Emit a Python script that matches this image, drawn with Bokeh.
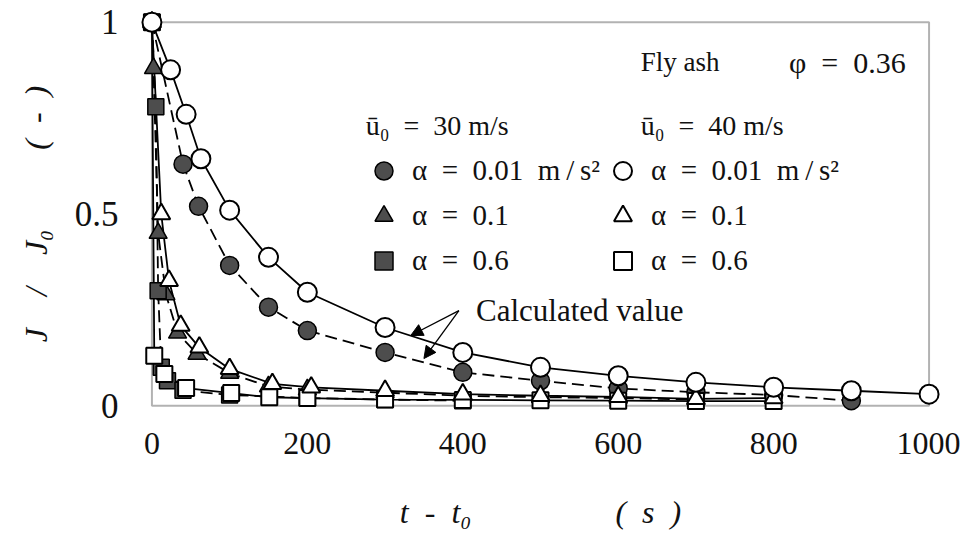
import math
from bokeh.plotting import figure
from bokeh.models import (Range1d, FixedTicker, Label, Legend, LegendItem, Arrow,
                          NormalHead, BoxAnnotation)
from bokeh.embed import file_html
from bokeh.resources import INLINE

# ---------------- data ----------------
# u0 = 40 m/s (open markers, solid calculated lines)
t_open_a001 = [0, 24, 44, 63, 100, 150, 200, 300, 400, 500, 600, 700, 800, 900, 1000]
j_open_a001 = [1.0, 0.876, 0.76, 0.644, 0.51, 0.387, 0.296, 0.204, 0.139, 0.10, 0.078, 0.061, 0.048, 0.039, 0.03]

t_open_a01 = [0, 12, 22, 37, 61, 100, 155, 205, 300, 400, 500, 600, 700, 800]
j_open_a01 = [1.0, 0.50, 0.326, 0.209, 0.152, 0.096, 0.057, 0.048, 0.039, 0.03, 0.026, 0.023, 0.018, 0.02]

t_open_a06 = [0, 3, 16, 44, 102, 151, 200, 300, 400, 500, 600, 700, 800]
j_open_a06 = [1.0, 0.13, 0.083, 0.046, 0.033, 0.022, 0.02, 0.016, 0.015, 0.014, 0.013, 0.012, 0.012]

# u0 = 30 m/s (filled markers, dashed calculated lines)
t_fill_a001 = [0, 40, 60, 100, 150, 200, 300, 400, 500, 600, 700, 800, 900]
j_fill_a001 = [1.0, 0.63, 0.52, 0.366, 0.257, 0.196, 0.139, 0.087, 0.065, 0.045, 0.035, 0.028, 0.013]

t_fill_a01 = [0, 2, 8, 18, 33, 58, 100, 150, 200, 300, 400, 500, 600, 700]
j_fill_a01 = [1.0, 0.88, 0.45, 0.29, 0.19, 0.135, 0.085, 0.05, 0.042, 0.034, 0.026, 0.022, 0.02, 0.016]

t_fill_a06 = [0, 5, 8, 12, 20, 40, 100, 200, 300, 400]
j_fill_a06 = [1.0, 0.78, 0.30, 0.10, 0.065, 0.04, 0.028, 0.02, 0.016, 0.013]

x_ticks = [0, 200, 400, 600, 800, 1000]
y_ticks = [0, 0.5, 1]
y_tick_labels = ["0", "0.5", "1"]

EN, EM, THIN = "\u2002", "\u2003", "\u2009"
labels_alpha = ["α" + EN + "=" + EN + "0.01" + EN + "m" + THIN + "/" + THIN + "s²",
                "α" + EN + "=" + EN + "0.1",
                "α" + EN + "=" + EN + "0.6"]

FONT = "Liberation Serif"
FILL = "#4d4d4d"
INK = "#111111"

p = figure(width=960, height=540, x_range=Range1d(-16, 1016), y_range=Range1d(-0.036, 1.036),
           output_backend="svg", toolbar_location=None, title=None,
           min_border_left=139, min_border_right=19, min_border_top=8, min_border_bottom=121)

p.xgrid.visible = False
p.ygrid.visible = False
p.outline_line_color = None
p.background_fill_color = "white"
p.border_fill_color = "white"

for ax in p.axis:
    ax.axis_line_color = None
    ax.major_tick_line_color = None
    ax.minor_tick_line_color = None
    ax.major_tick_in = 0
    ax.major_tick_out = 0
    ax.minor_tick_in = 0
    ax.minor_tick_out = 0
    ax.major_label_text_font = FONT
    ax.major_label_text_color = INK
    ax.axis_label_text_font = FONT
    ax.axis_label_text_font_size = "32px"
    ax.axis_label_text_font_style = "italic"
    ax.axis_label_text_color = INK

p.xaxis.ticker = FixedTicker(ticks=x_ticks)
p.xaxis.major_label_overrides = {t: str(t) for t in x_ticks}
p.xaxis.major_label_text_font_size = "32px"
p.xaxis.major_label_standoff = 13
p.xaxis.axis_label = "t" + EN + "-" + EN + "t₀" + EM * 4 + EN + "(" + EN + "s" + EN + ")"
p.xaxis.axis_label_standoff = 37

p.yaxis.ticker = FixedTicker(ticks=y_ticks)
p.yaxis.major_label_overrides = {t: s for t, s in zip(y_ticks, y_tick_labels)}
p.yaxis.major_label_text_font_size = "35px"
p.yaxis.major_label_standoff = 21
p.yaxis.axis_label = "J" + EM + "/" + EM + "J₀" + EM * 2 + EN + "(" + EN + "-" + EN + ")"
p.yaxis.axis_label_standoff = 18

# frame box
p.add_layout(BoxAnnotation(left=0, right=1000, bottom=0, top=1, fill_alpha=0,
                           line_color="black", line_width=2, level="underlay"))

# calculated curves
dash = "12 6"
p.line(t_fill_a001, j_fill_a001, line_color="black", line_width=1.8, line_dash=dash)
p.line(t_fill_a01, j_fill_a01, line_color="black", line_width=1.8, line_dash=dash)
p.line(t_fill_a06, j_fill_a06, line_color="black", line_width=1.8, line_dash=dash)
p.line(t_open_a001, j_open_a001, line_color="black", line_width=1.8)
p.line(t_open_a01, j_open_a01, line_color="black", line_width=1.8)
p.line(t_open_a06, j_open_a06, line_color="black", line_width=1.8)

# filled markers
r_fc = p.scatter(t_fill_a001, j_fill_a001, marker="circle", size=18, fill_color=FILL, line_color="black", line_width=1.5)
r_ft = p.scatter(t_fill_a01, j_fill_a01, marker="triangle", size=18, fill_color=FILL, line_color="black", line_width=1.5)
r_fs = p.scatter(t_fill_a06, j_fill_a06, marker="square", size=16, fill_color=FILL, line_color="black", line_width=1.5)
# open markers
r_os = p.scatter(t_open_a06, j_open_a06, marker="square", size=16, fill_color="white", line_color="black", line_width=2)
r_ot = p.scatter(t_open_a01, j_open_a01, marker="triangle", size=18, fill_color="white", line_color="black", line_width=2)
r_oc = p.scatter(t_open_a001, j_open_a001, marker="circle", size=19, fill_color="white", line_color="black", line_width=2)

common_leg = dict(orientation="vertical", glyph_width=45, glyph_height=45, spacing=0,
                  label_standoff=6, padding=10, border_line_color=None,
                  background_fill_alpha=0, label_text_font=FONT,
                  label_text_font_size="29px", label_text_color=INK, margin=0)
leg1 = Legend(items=[LegendItem(label=labels_alpha[0], renderers=[r_fc]),
                     LegendItem(label=labels_alpha[1], renderers=[r_ft]),
                     LegendItem(label=labels_alpha[2], renderers=[r_fs])],
              location=(222, 136), **common_leg)
leg2 = Legend(items=[LegendItem(label=labels_alpha[0], renderers=[r_oc]),
                     LegendItem(label=labels_alpha[1], renderers=[r_ot]),
                     LegendItem(label=labels_alpha[2], renderers=[r_os])],
              location=(461, 136), **common_leg)
p.add_layout(leg1)
p.add_layout(leg2)

def lab(x, y, text, size="28px", style="normal", align="left"):
    p.add_layout(Label(x=x, y=y, text=text, text_font=FONT, text_font_size=size,
                       text_font_style=style, text_align=align, text_baseline="middle",
                       text_color=INK))

lab(629, 0.896, "Fly ash", size="27px")
lab(970, 0.896, "φ" + EN + "=" + EN + "0.36", size="30px", align="right")
lab(275, 0.731, "ū₀" + EN + "=" + EN + "30 m/s")
lab(629, 0.731, "ū₀" + EN + "=" + EN + "40 m/s")
lab(417, 0.248, "Calculated value", size="31px")

# arrows to the calculated curves
for (xe, ye) in [(333, 0.183), (350, 0.123)]:
    p.add_layout(Arrow(x_start=395, y_start=0.248, x_end=xe, y_end=ye, line_width=1.3,
                       end=NormalHead(size=12, fill_color="black", line_color="black", line_width=1)))

open("out.html", "w").write(file_html(p, INLINE))
